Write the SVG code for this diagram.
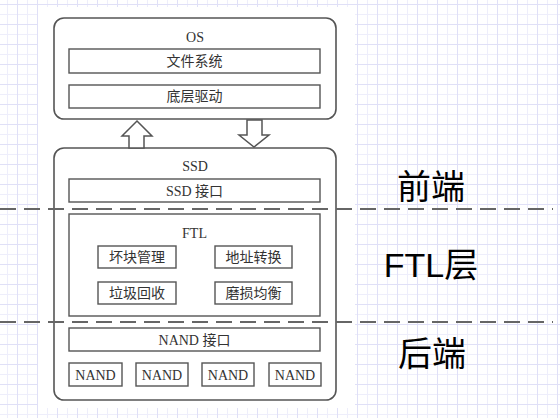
<svg xmlns="http://www.w3.org/2000/svg" width="560" height="418" viewBox="0 0 560 418">
<defs>
<pattern id="grid" patternUnits="userSpaceOnUse" x="17" y="4" width="20" height="20">
<rect x="0" y="0" width="20" height="20" fill="#ffffff"/>
<rect x="10" y="0" width="1" height="20" fill="#eeeefb"/>
<rect x="0" y="10" width="20" height="1" fill="#eeeefb"/>
<rect x="0" y="0" width="1" height="20" fill="#e0e0f7"/>
<rect x="0" y="0" width="20" height="1" fill="#e0e0f7"/>
</pattern>
<style>
.outer{fill:#ffffff;stroke:#555;stroke-width:1.6}
.box{fill:#ffffff;stroke:#555;stroke-width:1.4}
.t{font-family:"Liberation Serif","Noto Sans CJK SC",serif;font-size:14px;fill:#333;text-anchor:middle}
.big{font-family:"Liberation Sans","Noto Sans CJK SC",sans-serif;font-size:34px;fill:#000;text-anchor:middle}
.arrow{fill:#ffffff;stroke:#555;stroke-width:1.5;stroke-linejoin:miter}
.dash{stroke:#666;stroke-width:2;stroke-dasharray:16 8;fill:none}
</style>
</defs>
<rect x="0" y="0" width="560" height="418" fill="url(#grid)"/>
<rect x="38" y="7" width="317" height="401" fill="#ffffff"/>

<g id="os">
<rect class="outer" x="54" y="18" width="282" height="101" rx="10"/>
<text class="t" x="195" y="42">OS</text>
</g>
<g id="fs">
<rect class="box" x="69" y="49" width="251" height="24"/>
<text class="t" x="194.5" y="66">文件系统</text>
</g>
<g id="driver">
<rect class="box" x="69" y="85" width="251" height="23"/>
<text class="t" x="194.5" y="101">底层驱动</text>
</g>

<g id="ssd">
<rect class="outer" x="54" y="148" width="282" height="252" rx="10"/>
<text class="t" x="195" y="171">SSD</text>
</g>
<g id="ssd-if">
<rect class="box" x="69" y="179" width="251" height="23"/>
<text class="t" x="194.5" y="195.5">SSD 接口</text>
</g>
<g id="ftl">
<rect class="box" x="69" y="214" width="251" height="102"/>
<text class="t" x="194.5" y="238">FTL</text>
</g>
<g id="bad-block">
<rect class="box" x="98" y="246" width="78" height="22"/>
<text class="t" x="137" y="262">坏块管理</text>
</g>
<g id="addr-map">
<rect class="box" x="215" y="246" width="77" height="22"/>
<text class="t" x="253.5" y="262">地址转换</text>
</g>
<g id="gc">
<rect class="box" x="98" y="282" width="78" height="22"/>
<text class="t" x="137" y="298">垃圾回收</text>
</g>
<g id="wear-level">
<rect class="box" x="215" y="282" width="77" height="22"/>
<text class="t" x="253.5" y="298">磨损均衡</text>
</g>
<g id="nand-if">
<rect class="box" x="69" y="328" width="251" height="23"/>
<text class="t" x="194.5" y="344.5">NAND 接口</text>
</g>
<g id="nand1">
<rect class="box" x="69" y="363" width="53" height="23"/>
<text class="t" x="95.5" y="380">NAND</text>
</g>
<g id="nand2">
<rect class="box" x="136" y="363" width="52" height="23"/>
<text class="t" x="162" y="380">NAND</text>
</g>
<g id="nand3">
<rect class="box" x="202" y="363" width="52" height="23"/>
<text class="t" x="228" y="380">NAND</text>
</g>
<g id="nand4">
<rect class="box" x="269" y="363" width="52" height="23"/>
<text class="t" x="295" y="380">NAND</text>
</g>

<g id="connectors">
<polygon class="arrow" points="137,121 152,136 144,136 144,148 129,148 129,136 122,136"/>
<polygon class="arrow" points="247,120 262,120 262,135 269,135 254,147 239,135 247,135"/>
</g>

<g id="dividers">
<line class="dash" x1="0" y1="209" x2="553" y2="209"/>
<line class="dash" x1="0" y1="322" x2="553" y2="322"/>
</g>

<g id="labels">
<text class="big" x="431" y="199">前端</text>
<text class="big" x="431" y="277">FTL层</text>
<text class="big" x="432" y="366">后端</text>
</g>
</svg>
